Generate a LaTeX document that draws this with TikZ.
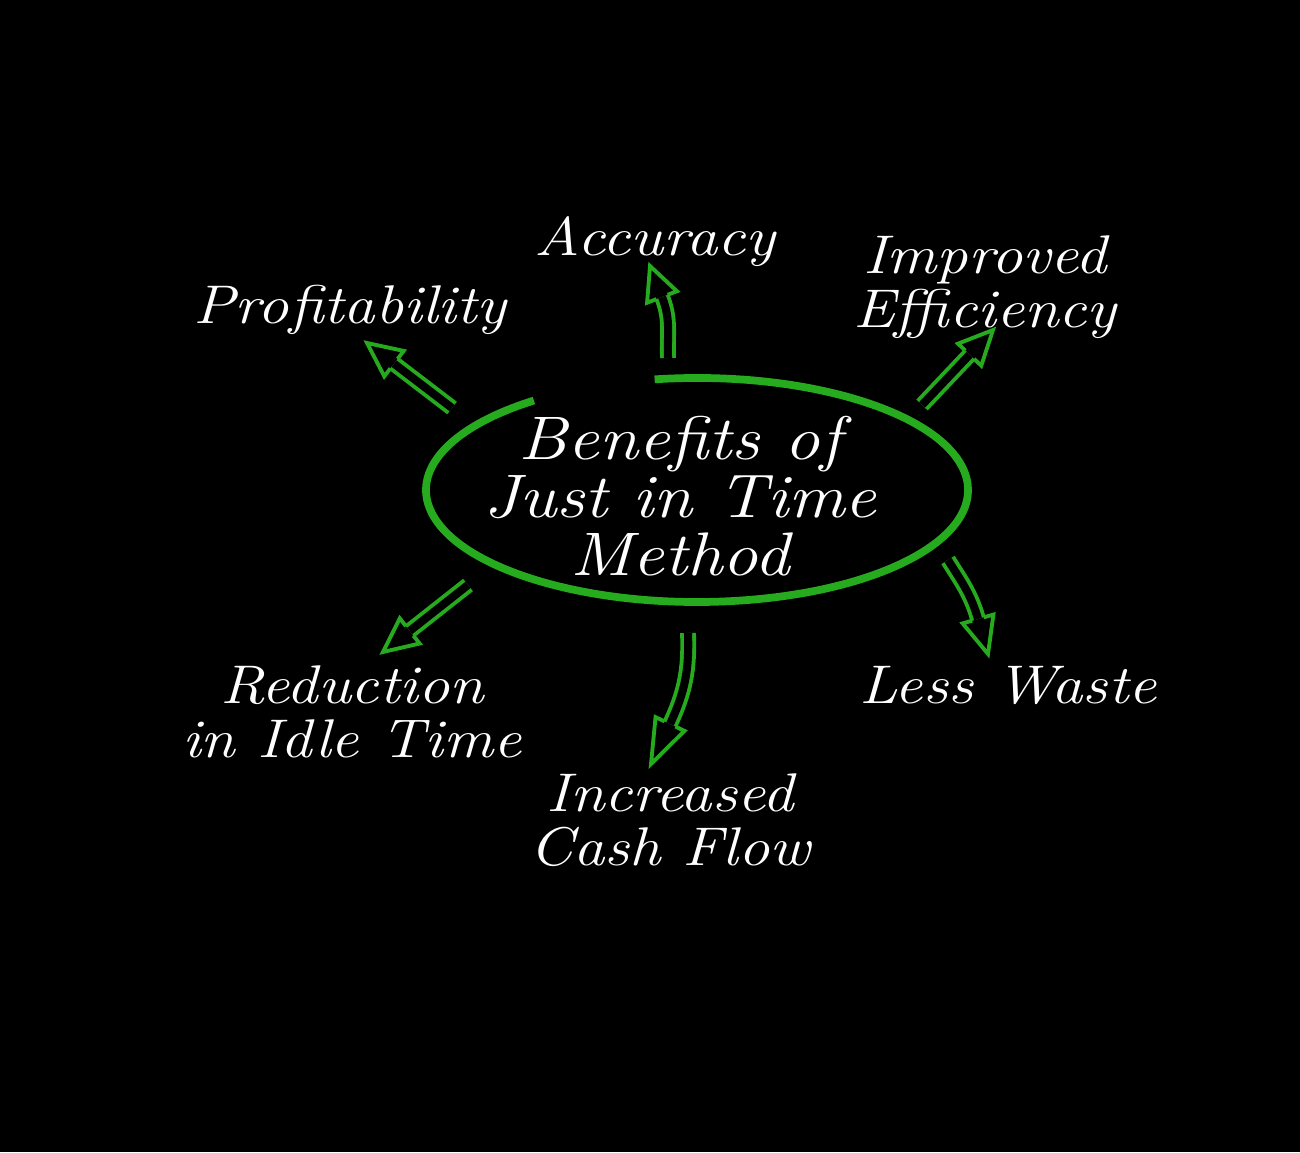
\documentclass[tikz,border=0pt]{standalone}
\usepackage{fontspec}
\setmainfont{Latin Modern Roman}[FakeStretch=1.15]
\usetikzlibrary{positioning,calc,arrows.meta}
\definecolor{jitgreen}{RGB}{38,170,30}
\tikzset{
    benefit text/.style={text=white, font=\itshape\fontsize{15.5}{15.5}\selectfont, align=center},
    shaft line/.style={draw=jitgreen, line width=1.1pt, double=black, double distance=2.3pt},
    tip line/.style={draw=jitgreen, line width=1.1pt, line join=miter}
}
% hollow head: #1 base centre, #2 point
\newcommand{\jitHead}[2]{\draw[tip line] ($(#1)!0.06cm!90:(#2)$) -- ($(#1)!0.16cm!90:(#2)$) -- (#2) -- ($(#1)!0.16cm!-90:(#2)$) -- ($(#1)!0.06cm!-90:(#2)$);}
\begin{document}
\begin{tikzpicture}
    		\fill[black] (0,0) rectangle (13,11.52);
    		\useasboundingbox (0,0) rectangle (13,11.52);
    		
    		\coordinate(E) at (6.97,6.62);
    		\draw[jitgreen, line width=2.2pt] (E) ++(99:2.71cm and 1.12cm) arc[start angle=99, end angle=-233, x radius=2.71cm, y radius=1.12cm];
    		\node[text=white, font=\itshape\fontsize{17.5}{16.5}\selectfont, align=center] (jit) at (6.80,6.56) {Benefits of\\Just in Time\\Method};
    		
    		\node[benefit text] (accuracy) at (6.55,9.10) {Accuracy};
    		\node[benefit text] (efficiency) at (9.85,8.65) {Improved\\Efficiency};
    		\node[benefit text] (profit) at (3.50,8.42) {Profitability};
    		\node[benefit text] (idle) at (3.52,4.40) {Reduction\\in Idle Time};
    		\node[benefit text] (cash) at (6.70,3.32) {Increased\\Cash Flow};
    		\node[benefit text] (waste) at (10.08,4.67) {Less Waste};
    		
    		% straight arrows
    		\coordinate(P1) at (4.52,7.44);
    		\coordinate(P2) at (3.67,8.09);
    		\coordinate(P3) at ($(P2)!0.34cm!(P1)$);
    		\draw[shaft line] (P1) -- (P3);
    		\jitHead{P3}{P2}
    		
    		\coordinate(F1) at (9.22,7.47);
    		\coordinate(F2) at (9.93,8.22);
    		\coordinate(F3) at ($(F2)!0.34cm!(F1)$);
    		\draw[shaft line] (F1) -- (F3);
    		\jitHead{F3}{F2}
    		
    		\coordinate(R1) at (4.68,5.67);
    		\coordinate(R2) at (3.83,5.00);
    		\coordinate(R3) at ($(R2)!0.34cm!(R1)$);
    		\draw[shaft line] (R1) -- (R3);
    		\jitHead{R3}{R2}
    		
    		% curved arrows
    		\coordinate(A1) at (6.68,7.94);
    		\coordinate(A3) at (6.62,8.55);
    		\coordinate(A2) at (6.50,8.86);
    		\draw[shaft line] (A1) to[out=92, in=-68] (A3);
    		\jitHead{A3}{A2}
    		
    		\coordinate(C1) at (6.88,5.19);
    		\coordinate(C3) at (6.70,4.28);
    		\coordinate(C2) at (6.51,3.88);
    		\draw[shaft line] (C1) to[out=-88, in=65] (C3);
    		\jitHead{C3}{C2}
    		
    		\coordinate(W1) at (9.48,5.92);
    		\coordinate(W3) at (9.78,5.33);
    		\coordinate(W2) at (9.88,4.98);
    		\draw[shaft line] (W1) to[out=-58, in=106] (W3);
    		\jitHead{W3}{W2}
    	\end{tikzpicture}
\end{document}
